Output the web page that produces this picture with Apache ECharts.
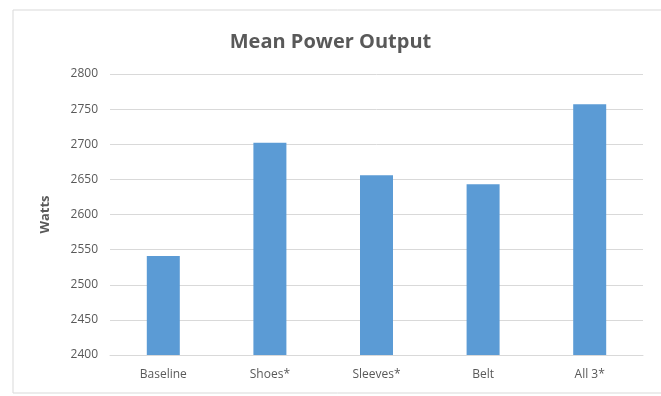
<!DOCTYPE html>
<html>
<head>
<meta charset="utf-8">
<script src="https://cdn.jsdelivr.net/npm/echarts@6/dist/echarts.min.js"></script>
<style>
  html, body { margin: 0; padding: 0; background: #ffffff; }
  #chart { width: 661px; height: 396px; }
</style>
</head>
<body>
<div id="chart"></div>
<script>
// Mean power output per condition (watts)
const categories = ['Baseline', 'Shoes*', 'Sleeves*', 'Belt', 'All 3*'];
const meanWatts = [2541, 2702, 2656, 2643, 2757];
const yTicks = { min: 2400, max: 2800, step: 50 };

const textColor = '#595959';
const fontFamily = '"Open Sans", "Noto Sans", sans-serif';

const chart = echarts.init(document.getElementById('chart'), null, { renderer: 'canvas' });

chart.setOption({
  backgroundColor: '#ffffff',
  animation: false,
  title: {
    text: 'Mean Power Output',
    left: 'center',
    top: 27,
    textStyle: { color: textColor, fontSize: 20, fontWeight: 'bold', fontFamily: fontFamily }
  },
  graphic: [{
    type: 'rect',
    shape: { x: 13, y: 10, width: 660, height: 383 },
    style: { fill: 'none', stroke: '#d9d9d9', lineWidth: 1 },
    z: -1
  }],
  grid: { left: 110, right: 18, top: 74, bottom: 41 },
  xAxis: {
    type: 'category',
    data: categories,
    axisLine: { lineStyle: { color: '#d9d9d9' } },
    axisTick: { show: false },
    axisLabel: { color: textColor, fontSize: 12, fontFamily: fontFamily, margin: 14 }
  },
  yAxis: {
    type: 'value',
    name: 'Watts',
    nameLocation: 'middle',
    nameGap: 58,
    nameRotate: 90,
    nameTextStyle: { color: textColor, fontSize: 13, fontWeight: 'bold', fontFamily: fontFamily },
    min: yTicks.min,
    max: yTicks.max,
    interval: yTicks.step,
    axisLine: { show: false },
    axisTick: { show: false },
    axisLabel: {
      color: textColor, fontSize: 12, fontFamily: fontFamily, margin: 12,
      formatter: (v) => String(v)
    },
    splitLine: { lineStyle: { color: '#d9d9d9', width: 1 } }
  },
  series: [{
    type: 'bar',
    data: meanWatts,
    barWidth: 33,
    itemStyle: { color: '#5b9bd5' }
  }]
});
</script>
</body>
</html>
